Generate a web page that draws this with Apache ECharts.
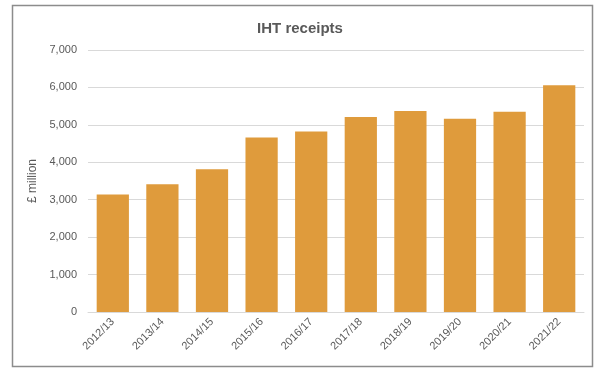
<!DOCTYPE html>
<html><head><meta charset="utf-8">
<script src="https://cdn.jsdelivr.net/npm/echarts@6/dist/echarts.min.js"></script>
<style>html,body{margin:0;padding:0;background:#fff}#c{width:600px;height:371px}</style>
</head><body><div id="c"></div>
<script>
const categories = ['2012/13','2013/14','2014/15','2015/16','2016/17','2017/18','2018/19','2019/20','2020/21','2021/22'];
const receipts = [3140, 3415, 3815, 4660, 4820, 5210, 5370, 5160, 5350, 6060];
const yTicks = [0, 1000, 2000, 3000, 4000, 5000, 6000, 7000];

const chart = echarts.init(document.getElementById('c'), null, {renderer:'canvas'});
const font = 'Liberation Sans, Arial, sans-serif';
chart.setOption({
  animation: false,
  textStyle: {fontFamily: font},
  graphic: [{type:'rect', shape:{x:12.5, y:5.5, width:580, height:361}, style:{fill:'none', stroke:'#8c8c8c', lineWidth:1.5}}],
  title: {text:'IHT receipts', left:'center', top:16, textStyle:{fontFamily:font, fontSize:15, fontWeight:'bold', color:'#595959'}},
  grid: {left:88, right:16, top:50, bottom:59},
  xAxis: {type:'category', data:categories,
    axisLine:{lineStyle:{color:'#d9d9d9'}}, axisTick:{show:false},
    axisLabel:{rotate:45, color:'#595959', fontSize:11, fontFamily:font, margin:8, interval:0}},
  yAxis: {type:'value', min:yTicks[0], max:yTicks[yTicks.length-1], interval:1000,
    name:'£ million', nameLocation:'middle', nameGap:47, nameRotate:90,
    nameTextStyle:{color:'#595959', fontSize:12, fontFamily:font},
    axisLabel:{color:'#595959', fontSize:11, fontFamily:font, margin:11,
      formatter: v => v.toLocaleString('en-GB')},
    splitLine:{lineStyle:{color:'#d9d9d9'}}, axisLine:{show:false}, axisTick:{show:false}},
  series: [{type:'bar', data:receipts, barCategoryGap:'35%',
    itemStyle:{color:'#df9b3c'}}]
});
</script></body></html>
